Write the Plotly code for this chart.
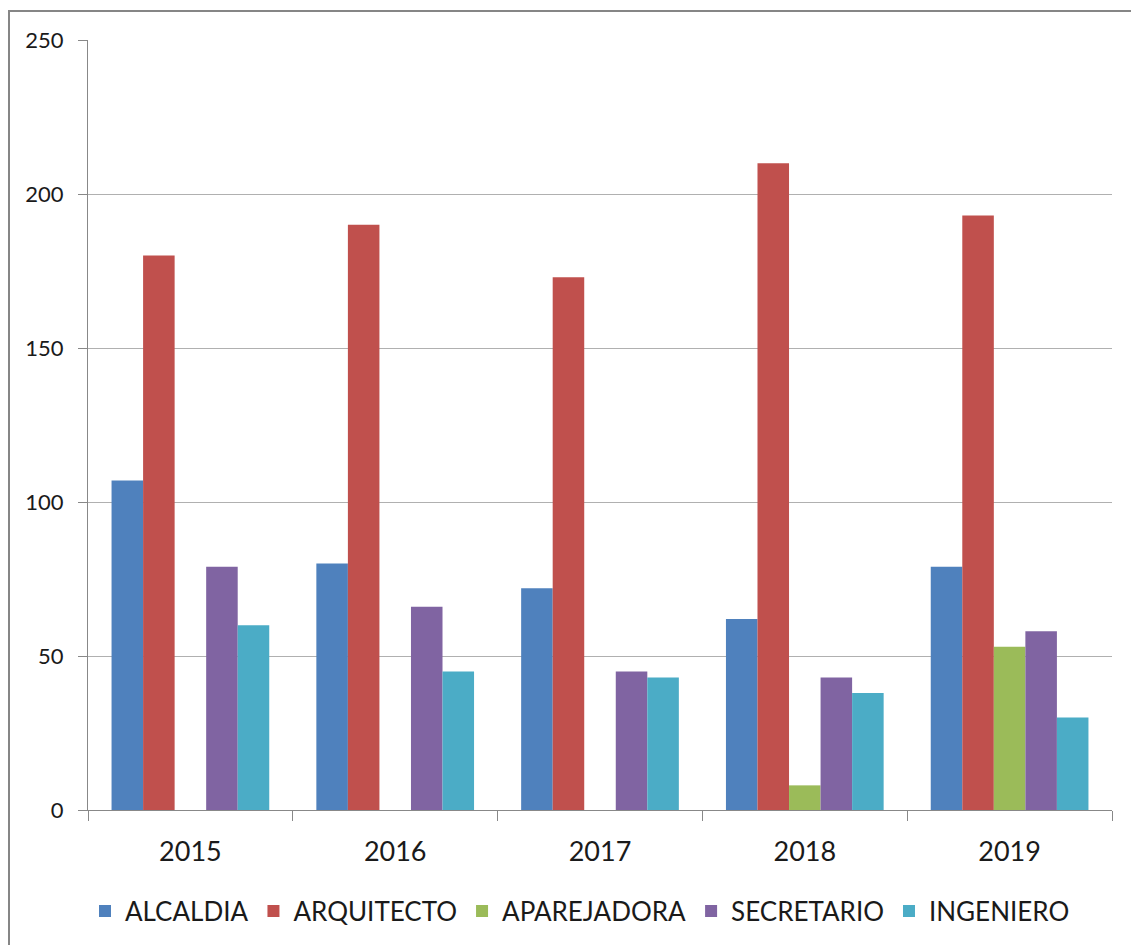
import plotly.graph_objects as go

years = ["2015", "2016", "2017", "2018", "2019"]
alcaldia = [107, 80, 72, 62, 79]
arquitecto = [180, 190, 173, 210, 193]
aparejadora = [0, 0, 0, 8, 53]
secretario = [79, 66, 45, 43, 58]
ingeniero = [60, 45, 43, 38, 30]

series = [
    ("ALCALDIA", alcaldia, "#4F81BD"),
    ("ARQUITECTO", arquitecto, "#C0504D"),
    ("APAREJADORA", aparejadora, "#9BBB59"),
    ("SECRETARIO", secretario, "#8064A2"),
    ("INGENIERO", ingeniero, "#4BACC6"),
]

fig = go.Figure()
for name, vals, color in series:
    fig.add_trace(go.Bar(x=years, y=vals, name=name, marker=dict(color=color, line=dict(width=0))))

W, H = 1131, 945
ml, mr, mt, mb = 88, 19, 40, 134
pw, ph = W - ml - mr, H - mt - mb

fig.update_layout(
    width=W, height=H,
    margin=dict(l=ml, r=mr, t=mt, b=mb, pad=0),
    paper_bgcolor="white", plot_bgcolor="white",
    barmode="group", bargap=0.23, bargroupgap=0,
    font=dict(family="Lato, Carlito, sans-serif", color="#1a1a1a"),
    showlegend=True,
    legend=dict(orientation="h", x=(580 - ml) / pw, xanchor="center", y=-(911 - (H - mb)) / ph, yanchor="middle",
                font=dict(size=26), traceorder="normal", itemwidth=30),
    xaxis=dict(type="category", showline=True, linecolor="#888888", linewidth=1,
               ticks="outside", tickson="boundaries", ticklen=10, tickcolor="#888888",
               tickfont=dict(size=27), showgrid=False, ticklabelstandoff=18),
    yaxis=dict(range=[0, 250], tickvals=[0, 50, 100, 150, 200, 250], showline=True, linecolor="#888888",
               linewidth=1, ticks="outside", ticklen=9, tickcolor="#888888", gridcolor="#b0b0b0",
               gridwidth=1, tickfont=dict(size=22), zeroline=False, ticklabelstandoff=10),
    shapes=[dict(type="rect", xref="paper", yref="paper",
                 x0=(9 - ml) / pw, x1=1.1, y0=-0.3, y1=1 + (mt - 11) / ph,
                 line=dict(color="#868686", width=2), fillcolor="rgba(0,0,0,0)", layer="above")],
)

fig.write_html("out.html", config={"displayModeBar": False},
               post_script="document.body.style.margin='0';document.body.style.overflow='hidden';")
